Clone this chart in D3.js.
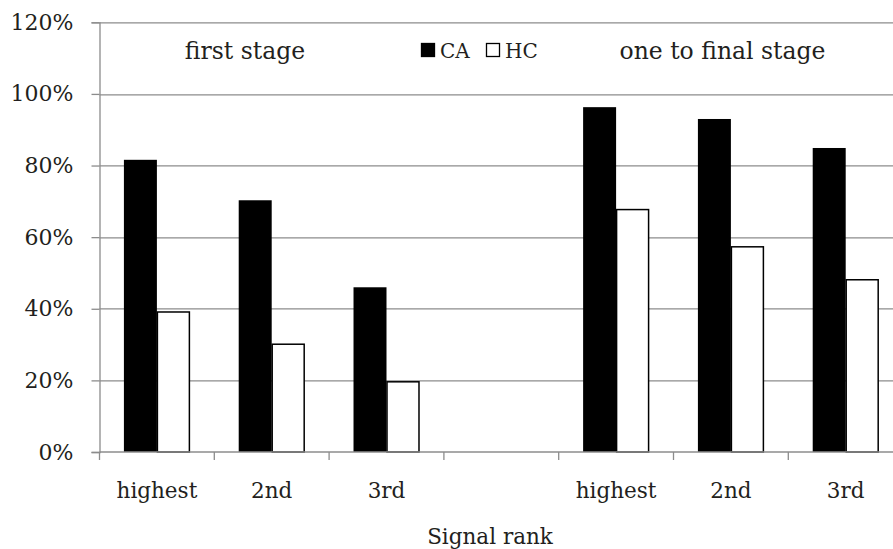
<!DOCTYPE html>
<html>
<head>
<meta charset="utf-8">
<script src="https://cdn.jsdelivr.net/npm/d3@7/dist/d3.min.js"></script>
<style>
  html, body { margin: 0; padding: 0; background: #fff; }
  svg { display: block; }
  text { font-family: "DejaVu Serif", serif; fill: #231f20; }
</style>
</head>
<body>
<svg id="chart" width="893" height="549"></svg>
<script>
// Signal-rank categories (the empty slot separates the two stages)
const rankLabels = ["highest", "2nd", "3rd", "", "highest", "2nd", "3rd"];
const seriesNames = ["CA", "HC"];
const caValues = [81.6, 70.3, 46.0, null, 96.3, 93.0, 84.9];
const hcValues = [39.1, 30.1, 19.6, null, 67.7, 57.3, 48.1];
const yTicks = [0, 20, 40, 60, 80, 100, 120];
const stageLabels = ["first stage", "one to final stage"];
const xTitle = "Signal rank";

const svg = d3.select("#chart");
const margin = { left: 99.5, top: 22.3, bottom: 97 };
const plotH = 549 - margin.top - margin.bottom;
const plotW = 7 * 114.8;

const g = svg.append("g").attr("transform", `translate(${margin.left},${margin.top})`);

const x = d3.scaleBand().domain(d3.range(rankLabels.length)).range([0, plotW]).padding(0);
const x1 = d3.scaleBand().domain(seriesNames).range([0, x.bandwidth()]).paddingInner(0).paddingOuter(0.74);
const y = d3.scaleLinear().domain([0, 120]).range([plotH, 0]);

// horizontal gridlines
g.append("g").selectAll("line").data(yTicks.filter(t => t > 0)).join("line")
  .attr("x1", 0).attr("x2", plotW)
  .attr("y1", d => Math.round(y(d)) + 0.5).attr("y2", d => Math.round(y(d)) + 0.5)
  .attr("stroke", "#8c8c8c").attr("stroke-width", 1.3);

// y axis
const yAxis = g.append("g")
  .call(d3.axisLeft(y).tickValues(yTicks).tickFormat(d => d + "%").tickSize(8).tickPadding(18));
yAxis.select(".domain").attr("stroke", "#8c8c8c").attr("stroke-width", 1.3);
yAxis.selectAll(".tick line").attr("stroke", "#8c8c8c").attr("stroke-width", 1.3);
yAxis.selectAll(".tick text").style("font-size", "22px").style("font-family", "DejaVu Serif, serif").attr("fill", "#231f20");

// bars
const rows = rankLabels.map((lab, i) => ({ i, CA: caValues[i], HC: hcValues[i] }));
const groups = g.append("g").selectAll("g").data(rows.filter(r => r.CA != null)).join("g")
  .attr("transform", d => `translate(${x(d.i)},0)`);
groups.append("rect")
  .attr("x", x1("CA")).attr("width", x1.bandwidth())
  .attr("y", d => y(d.CA)).attr("height", d => y(0) - y(d.CA))
  .attr("fill", "#000");
groups.append("rect")
  .attr("x", x1("HC") + 0.5).attr("width", x1.bandwidth() - 1)
  .attr("y", d => y(d.HC)).attr("height", d => y(0) - y(d.HC))
  .attr("fill", "#fff").attr("stroke", "#000").attr("stroke-width", 1.5);

// x axis: baseline, category-boundary ticks and centred labels
const xAxis = g.append("g").attr("transform", `translate(0,${plotH})`);
xAxis.append("line").attr("x1", 0).attr("x2", plotW).attr("y1", 0).attr("y2", 0)
  .attr("stroke", "#8c8c8c").attr("stroke-width", 1.3);
const bounds = d3.range(rankLabels.length + 1).map(i => i * x.step());
xAxis.selectAll("line.b").data(bounds).join("line").attr("class", "b")
  .attr("x1", d => d).attr("x2", d => d).attr("y1", 0).attr("y2", 8)
  .attr("stroke", "#8c8c8c").attr("stroke-width", 1.3);
xAxis.call(d3.axisBottom(x).tickFormat(i => rankLabels[i]).tickSize(0).tickPadding(31))
  .call(a => a.select(".domain").remove());
xAxis.selectAll(".tick text").style("font-size", "21.5px").style("font-family", "DejaVu Serif, serif").attr("fill", "#231f20");

// axis title
svg.append("text").attr("x", 490).attr("y", 544).attr("text-anchor", "middle")
  .style("font-size", "21.5px").text(xTitle);

// stage labels
svg.append("text").attr("x", 245).attr("y", 59).attr("text-anchor", "middle")
  .style("font-size", "23.5px").text(stageLabels[0]);
svg.append("text").attr("x", 722.5).attr("y", 59).attr("text-anchor", "middle")
  .style("font-size", "23.5px").text(stageLabels[1]);

// legend
const legend = svg.append("g");
const legX = [421, 486];
seriesNames.forEach((name, k) => {
  legend.append("rect").attr("x", legX[k] + 0.5).attr("y", 43.5).attr("width", 13).attr("height", 13)
    .attr("fill", k === 0 ? "#000" : "#fff").attr("stroke", "#000").attr("stroke-width", 1.3);
  legend.append("text").attr("x", legX[k] + 19).attr("y", 57.5).style("font-size", "20px").text(name);
});
</script>
</body>
</html>
